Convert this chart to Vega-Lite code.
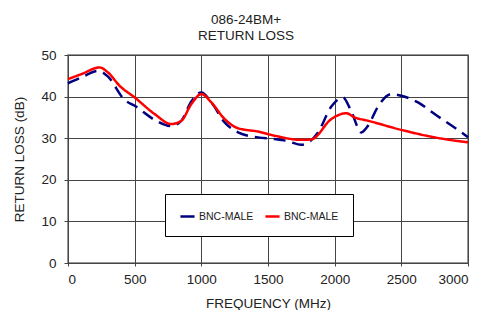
{
  "$schema": "https://vega.github.io/schema/vega-lite/v6.json",
  "width": 400,
  "height": 208,
  "padding": {"left": 12, "top": 12, "right": 5, "bottom": 0},
  "config": {
    "font": "Liberation Sans",
    "view": {"stroke": "#777", "strokeWidth": 1.5},
    "axis": {"grid": true, "labelFont": "Liberation Sans", "titleFont": "Liberation Sans", "labelFontSize": 13.5, "titleFontSize": 13.5, "titleFontWeight": "normal", "labelColor": "#222", "titleColor": "#222", "gridColor": "#444", "gridOpacity": 1, "gridWidth": 1, "domainColor": "#444", "tickColor": "#444"}
  },
  "title": {"text": ["086-24BM+", "RETURN LOSS"], "fontSize": 13.5, "fontWeight": "normal", "font": "Liberation Sans", "color": "#222", "anchor": "middle", "dx": -22, "offset": 6, "lineHeight": 16},
  "data": {"values": [
    {"f": 0, "v": 43.2, "s": "A"},
    {"f": 100, "v": 44.6, "s": "A"},
    {"f": 225, "v": 46.2, "s": "A"},
    {"f": 300, "v": 44.8, "s": "A"},
    {"f": 425, "v": 39.2, "s": "A"},
    {"f": 500, "v": 37.8, "s": "A"},
    {"f": 650, "v": 34.4, "s": "A"},
    {"f": 775, "v": 32.9, "s": "A"},
    {"f": 850, "v": 34.2, "s": "A"},
    {"f": 925, "v": 38.8, "s": "A"},
    {"f": 1000, "v": 41.0, "s": "A"},
    {"f": 1075, "v": 38.6, "s": "A"},
    {"f": 1175, "v": 33.8, "s": "A"},
    {"f": 1275, "v": 31.4, "s": "A"},
    {"f": 1425, "v": 30.2, "s": "A"},
    {"f": 1550, "v": 29.8, "s": "A"},
    {"f": 1650, "v": 29.3, "s": "A"},
    {"f": 1750, "v": 28.4, "s": "A"},
    {"f": 1875, "v": 31.4, "s": "A"},
    {"f": 1975, "v": 37.6, "s": "A"},
    {"f": 2062, "v": 39.8, "s": "A"},
    {"f": 2125, "v": 36.4, "s": "A"},
    {"f": 2200, "v": 31.4, "s": "A"},
    {"f": 2250, "v": 33.0, "s": "A"},
    {"f": 2325, "v": 37.6, "s": "A"},
    {"f": 2425, "v": 40.6, "s": "A"},
    {"f": 2500, "v": 40.2, "s": "A"},
    {"f": 2625, "v": 38.6, "s": "A"},
    {"f": 2750, "v": 35.8, "s": "A"},
    {"f": 2950, "v": 31.4, "s": "A"},
    {"f": 3000, "v": 30.2, "s": "A"},
    {"f": 0, "v": 44.2, "s": "B"},
    {"f": 100, "v": 45.4, "s": "B"},
    {"f": 237, "v": 47.0, "s": "B"},
    {"f": 300, "v": 45.8, "s": "B"},
    {"f": 387, "v": 42.6, "s": "B"},
    {"f": 500, "v": 39.8, "s": "B"},
    {"f": 650, "v": 35.8, "s": "B"},
    {"f": 775, "v": 33.4, "s": "B"},
    {"f": 850, "v": 34.2, "s": "B"},
    {"f": 925, "v": 38.2, "s": "B"},
    {"f": 1000, "v": 40.6, "s": "B"},
    {"f": 1075, "v": 38.6, "s": "B"},
    {"f": 1175, "v": 34.6, "s": "B"},
    {"f": 1275, "v": 32.4, "s": "B"},
    {"f": 1425, "v": 31.6, "s": "B"},
    {"f": 1550, "v": 30.6, "s": "B"},
    {"f": 1750, "v": 29.6, "s": "B"},
    {"f": 1825, "v": 29.7, "s": "B"},
    {"f": 1975, "v": 34.6, "s": "B"},
    {"f": 2087, "v": 36.0, "s": "B"},
    {"f": 2150, "v": 35.0, "s": "B"},
    {"f": 2250, "v": 34.2, "s": "B"},
    {"f": 2500, "v": 32.0, "s": "B"},
    {"f": 2750, "v": 30.2, "s": "B"},
    {"f": 3000, "v": 29.0, "s": "B"}
  ]},
  "mark": {"type": "line", "interpolate": "monotone", "strokeWidth": 2.5},
  "encoding": {
    "x": {"field": "f", "type": "quantitative", "scale": {"domain": [0, 3000], "nice": false}, "axis": {"values": [0, 500, 1000, 1500, 2000, 2500, 3000], "format": "d", "title": "FREQUENCY (MHz)", "tickSize": 3, "labelPadding": 6, "titlePadding": 11}},
    "y": {"field": "v", "type": "quantitative", "scale": {"domain": [0, 50], "nice": false}, "axis": {"values": [0, 10, 20, 30, 40, 50], "title": "RETURN LOSS (dB)", "tickSize": 4, "labelPadding": 8, "titlePadding": 14}},
    "color": {"field": "s", "type": "nominal", "scale": {"domain": ["A", "B"], "range": ["#000080", "#ff0000"]}, "legend": {"orient": "none", "legendX": 97, "legendY": 139, "direction": "horizontal", "title": null, "labelExpr": "'BNC-MALE'", "symbolType": "stroke", "symbolDash": [1, 0], "symbolStrokeWidth": 2.5, "symbolSize": 200, "labelFontSize": 10.5, "labelFont": "Liberation Sans", "labelColor": "#222", "strokeColor": "#000", "fillColor": "#fff", "padding": 14, "columnPadding": 6, "labelOffset": 3}},
    "strokeDash": {"condition": {"test": "datum.s === 'A'", "value": [12, 7]}, "value": [1, 0]}
  }
}
